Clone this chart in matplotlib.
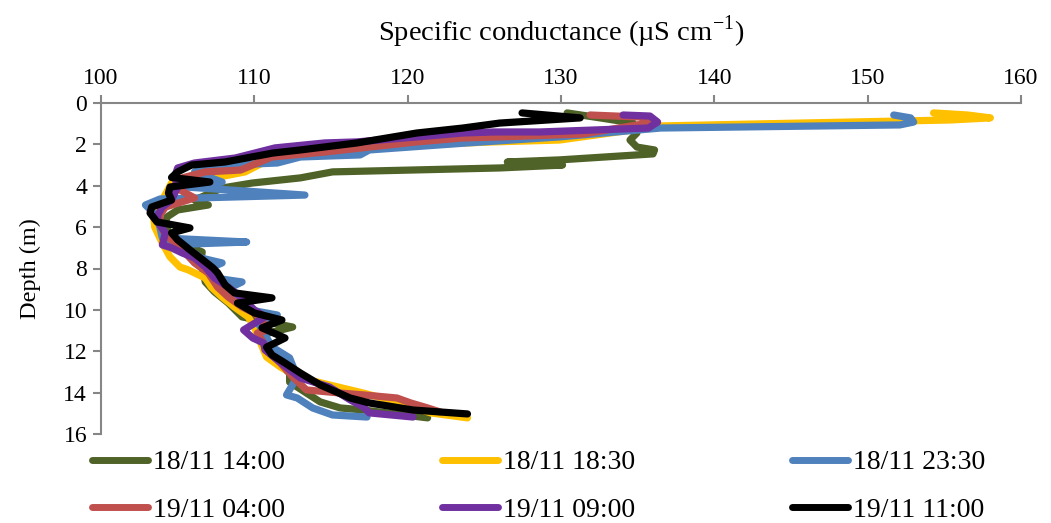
import matplotlib
matplotlib.use("Agg")
import matplotlib.pyplot as plt
import numpy as np

plt.rcParams['font.family'] = ['Liberation Serif', 'DejaVu Serif']
plt.rcParams['mathtext.fontset'] = 'custom'
plt.rcParams['mathtext.rm'] = 'Liberation Serif'

# profiles: conductance (uS/cm) and depth (m)
labels = ["18/11 14:00", "18/11 18:30", "18/11 23:30",
          "19/11 04:00", "19/11 09:00", "19/11 11:00"]
colors = ["#4F6228", "#FFC000", "#4F81BD", "#C0504D", "#7030A0", "#000000"]

cond_1400 = [130.4, 132.55, 134.7, 134.95, 134.5, 134.95, 136.1, 136.0, 129.9, 126.5,
             130.1, 126.0, 115.1, 113.0, 109.85, 107.9, 106.1, 107.0, 105.0, 104.3,
             104.2, 104.5, 105.0, 106.6, 106.5, 106.8, 107.4, 108.3, 109.2, 112.5,
             110.5, 111.2, 111.9, 111.5, 112.3, 112.3, 113.4, 114.3, 115.6, 117.1, 121.3]
depth_1400 = [0.48, 0.72, 0.97, 1.45, 1.79, 2.13, 2.27, 2.46, 2.75, 2.85,
              3.0, 3.14, 3.33, 3.62, 3.87, 4.11, 4.69, 4.93, 5.17, 5.51,
              5.9, 6.38, 6.72, 7.2, 7.68, 8.65, 9.13, 9.67, 10.34, 10.83,
              11.2, 12.08, 12.18, 12.57, 13.05, 13.49, 14.02, 14.45, 14.74, 14.84, 15.22]

cond_1830 = [154.3, 156.5, 158.0, 155.4, 136.5, 129.9, 125.6, 123.9, 120.6, 117.5,
             113.0, 111.15, 109.4, 107.4, 104.6, 104.0, 103.4, 103.5, 104.0, 104.5,
             105.15, 105.7, 106.8, 107.2, 107.9, 108.7, 109.6, 110.0, 110.6, 110.8,
             111.7, 113.0, 114.9, 117.1, 119.3, 121.5, 123.9]
depth_1830 = [0.48, 0.58, 0.72, 0.82, 1.11, 1.79, 1.88, 1.93, 2.03, 2.17,
              2.27, 2.66, 3.33, 3.62, 3.87, 4.69, 5.17, 5.99, 6.77, 7.44,
              7.93, 8.07, 8.46, 8.9, 9.38, 9.86, 10.34, 10.83, 11.94, 12.28,
              12.76, 13.29, 13.63, 14.02, 14.45, 14.98, 15.22]

cond_2330 = [151.7, 152.8, 153.0, 152.1, 136.5, 129.9, 123.9, 117.5, 116.9, 113.0,
             111.5, 108.3, 106.1, 107.9, 105.5, 113.3, 103.85, 102.9, 103.3, 103.65,
             103.85, 104.0, 109.5, 104.2, 105.8, 106.5, 107.9, 106.8, 107.4, 109.2,
             108.1, 109.1, 109.7, 111.5, 110.2, 110.7, 111.15, 112.3, 112.8, 112.1,
             112.8, 113.8, 115.1, 117.35]
depth_2330 = [0.58, 0.72, 0.92, 1.06, 1.21, 1.64, 1.93, 2.27, 2.51, 2.61,
              2.9, 3.0, 3.33, 3.82, 4.06, 4.45, 4.64, 4.93, 5.22, 5.51,
              6.04, 6.52, 6.72, 6.86, 7.1, 7.49, 7.73, 8.07, 8.46, 8.65,
              9.04, 9.52, 10.0, 10.25, 10.58, 11.2, 11.79, 12.32, 13.24, 14.11,
              14.26, 14.74, 15.08, 15.18]

cond_0400 = [131.9, 135.2, 135.7, 131.4, 126.0, 123.6, 120.6, 117.5, 114.6, 111.15,
             109.1, 106.8, 105.3, 104.8, 106.1, 104.2, 103.85, 103.85, 104.2, 104.6,
             105.5, 106.1, 107.0, 107.6, 108.3, 109.2, 110.0, 110.5, 110.9, 110.2,
             110.6, 111.0, 111.7, 112.5, 113.4, 115.6, 117.1, 119.3, 120.2, 121.3, 122.1]
depth_0400 = [0.58, 0.68, 0.97, 1.5, 1.64, 1.69, 1.88, 2.13, 2.37, 2.61,
              3.24, 3.33, 3.62, 4.06, 4.59, 5.03, 5.41, 5.9, 6.38, 6.62,
              7.25, 7.73, 8.22, 8.9, 9.38, 9.86, 10.15, 10.49, 10.97, 11.12,
              11.6, 12.08, 12.57, 13.24, 13.87, 14.02, 14.11, 14.26, 14.5, 14.74, 14.93]

cond_0900 = [134.05, 135.8, 136.3, 135.7, 128.6, 125.6, 123.6, 120.6, 116.7, 114.6,
             111.35, 108.75, 106.1, 105.0, 104.8, 105.0, 104.6, 104.0, 103.7, 103.7,
             104.2, 104.0, 104.6, 105.3, 106.1, 106.8, 107.4, 108.3, 109.2, 110.0,
             110.7, 109.3, 109.9, 110.6, 110.7, 111.5, 112.3, 113.0, 114.9, 116.25,
             117.1, 117.5, 120.35]
depth_0900 = [0.58, 0.63, 0.92, 1.21, 1.4, 1.4, 1.45, 1.64, 1.88, 1.93,
              2.17, 2.66, 2.9, 3.14, 3.58, 4.06, 4.69, 5.03, 5.41, 5.75,
              6.28, 6.86, 7.0, 7.25, 7.49, 7.93, 8.46, 8.9, 9.42, 10.0,
              10.34, 10.97, 11.36, 11.6, 11.94, 12.42, 12.9, 13.29, 13.73, 14.35,
              14.69, 14.98, 15.18]

cond_1100 = [127.46, 131.25, 126.0, 123.6, 120.6, 116.7, 113.0, 111.2, 108.1, 105.9,
             105.0, 104.6, 107.1, 104.5, 104.4, 104.6, 103.3, 103.2, 103.65, 105.8,
             104.6, 105.0, 105.8, 106.65, 107.3, 107.6, 108.1, 108.7, 111.15, 108.9,
             110.0, 111.8, 110.5, 112.0, 110.8, 111.15, 111.9, 113.0, 114.3, 116.25,
             117.5, 120.35, 123.9]
depth_1100 = [0.48, 0.72, 0.97, 1.21, 1.45, 1.93, 2.27, 2.42, 2.85, 3.0,
              3.33, 3.6, 3.82, 4.06, 4.35, 4.69, 5.03, 5.32, 5.75, 6.04,
              6.28, 6.62, 7.1, 7.59, 7.97, 8.2, 8.8, 9.18, 9.42, 9.67,
              10.15, 10.49, 10.87, 11.36, 11.8, 12.18, 12.52, 13.05, 13.63, 14.26,
              14.5, 14.84, 15.03]

conds = [cond_1400, cond_1830, cond_2330, cond_0400, cond_0900, cond_1100]
depths = [depth_1400, depth_1830, depth_2330, depth_0400, depth_0900, depth_1100]

fig = plt.figure(figsize=(10.51, 5.23), dpi=100)
ax = fig.add_axes([101 / 1051, 1 - 434 / 523, 920 / 1051, 331 / 523])

lines = []
for c, d, col, lab in zip(conds, depths, colors, labels):
    ln, = ax.plot(c, d, color=col, lw=5.2, label=lab,
                  solid_capstyle='round', solid_joinstyle='round')
    lines.append(ln)

ax.set_xlim(100, 160)
ax.set_ylim(16, 0)
ax.set_xticks(np.arange(100, 161, 10))
ax.set_yticks(np.arange(0, 17, 2))

ax.xaxis.tick_top()
ax.xaxis.set_label_position('top')
ax.set_xlabel(r'Specific conductance (µS cm$^{\mathregular{-1}}$)', fontsize=20.5, labelpad=20)
ax.set_ylabel('Depth (m)', fontsize=17.5, labelpad=16)

for s in ['right', 'bottom']:
    ax.spines[s].set_visible(False)
for s in ['top', 'left']:
    ax.spines[s].set_color('#868686')
    ax.spines[s].set_linewidth(1.5)
ax.tick_params(axis='both', colors='#868686', labelcolor='black', labelsize=17,
               length=6, width=1.5, direction='out')
ax.tick_params(axis='x', pad=4)
ax.tick_params(axis='y', pad=4)

# legend fills row by row in the reference, matplotlib fills by column
order = [0, 3, 1, 4, 2, 5]
leg = fig.legend([lines[i] for i in order], [labels[i] for i in order],
                 loc='upper left', bbox_to_anchor=(92 / 1051, 1 - 450 / 523), ncol=3,
                 frameon=False, fontsize=20, handlelength=2.0, handletextpad=0.2,
                 columnspacing=5.65, labelspacing=0.78, borderpad=0, borderaxespad=0)
for h in leg.legend_handles:
    h.set_linewidth(5)
    h.set_solid_capstyle('round')

fig.savefig('out.png', dpi=100)
